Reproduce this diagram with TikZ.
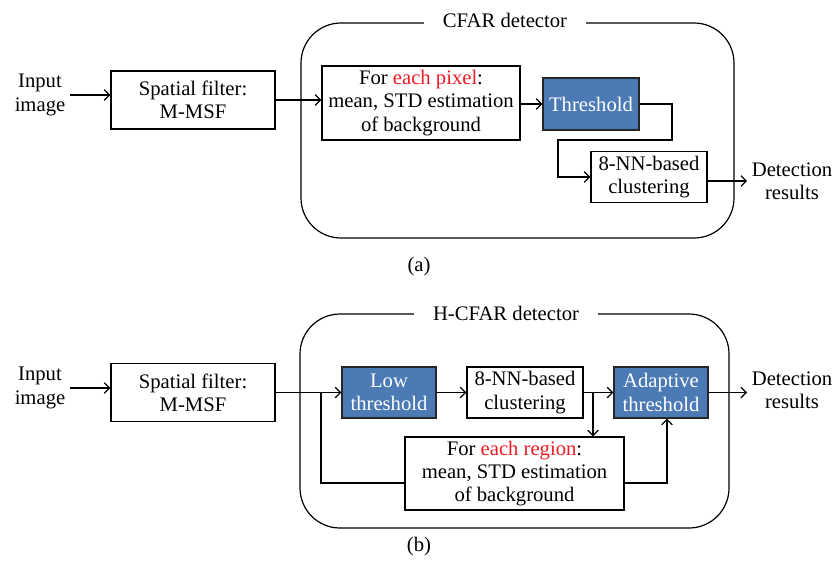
\documentclass[tikz,border=0pt]{standalone}
\usepackage{fontspec}
\setmainfont{Liberation Serif}
\usetikzlibrary{calc}
\usetikzlibrary{arrows.meta}
\definecolor{boxblue}{RGB}{76,122,181}
\definecolor{eachred}{RGB}{236,28,36}
\newcommand{\each}[1]{\textcolor{eachred}{#1}}
\tikzset{
    block/.style={draw, rectangle, align=center, inner sep=1pt, line width=0.9pt},
    blueblock/.style={block, fill=boxblue, text=white, draw=black!85},
    frame/.style={draw, rounded corners=30pt, line width=0.9pt},
    title/.style={fill=white, inner xsep=14pt, inner ysep=1pt},
    plain/.style={align=center},
    wire/.style={line width=0.9pt},
    arr/.style={wire, -{Straight Barb[length=4pt,width=8pt]}}
}
\begin{document}
\begin{tikzpicture}[x=0.75pt, y=-0.75pt, font=\fontsize{15.5}{17.5}\selectfont]
    \useasboundingbox (0,0) rectangle (838,572);

    % (a) CFAR detector
    \draw[frame] (301,23) rectangle (734,238);
    \node[title] (titleA) at (505,20) {CFAR detector};
    \node[plain] (inputA) at (40,95) {Input\\image};
    \node[block, minimum width=123pt, minimum height=43.5pt] (spatialA) at (193,100) {Spatial filter:\\M-MSF};
    \node[block, minimum width=148.5pt, minimum height=55.5pt] (pixelA) at (421,103) {For \each{each pixel}:\\mean, STD estimation\\of background};
    \node[blueblock, minimum width=72pt, minimum height=39pt] (threshA) at (591,104) {Threshold};
    \node[block, minimum width=87pt, minimum height=38.25pt] (nnA) at (649,177) {8-NN-based\\clustering};
    \node[plain] (outA) at (792,181) {Detection\\results};
    \node (capA) at (419,267) {(a)};

    \draw[arr] (inputA.east) -- (inputA.east -| spatialA.west);
    \draw[arr] (spatialA.east) -- (spatialA.east -| pixelA.west);
    \draw[arr] (pixelA.east |- threshA.west) -- (threshA.west);
    \draw[arr] (threshA.east) -| (672,140) -| (558,177) -- (nnA.west);
    \draw[arr] (nnA.east |- outA.west) -- (outA.west);

    % (b) H-CFAR detector
    \draw[frame] (300,314) rectangle (729,528);
    \node[title] (titleB) at (506,313) {H-CFAR detector};
    \node[plain] (inputB) at (40,388) {Input\\image};
    \node[block, minimum width=123pt, minimum height=44pt] (spatialB) at (193,392.5) {Spatial filter:\\M-MSF};
    \node[blueblock, minimum width=70.5pt, minimum height=38.25pt] (lowB) at (389,392.5) {Low\\threshold};
    \node[block, minimum width=87pt, minimum height=38.25pt] (nnB) at (525,392.5) {8-NN-based\\clustering};
    \node[blueblock, minimum width=70.5pt, minimum height=38.25pt] (adaptB) at (661,392.5) {Adaptive\\threshold};
    \node[block, minimum width=164.25pt, minimum height=54.75pt] (regionB) at (514.5,473.5) {For \each{each region}:\\mean, STD estimation\\of background};
    \node[plain] (outB) at (792,390) {Detection\\results};
    \node (capB) at (419,547) {(b)};
    \coordinate (splitB) at (321,392.5);
    \coordinate (splitC) at (593,392.5);

    \draw[arr] (inputB.east) -- (inputB.east -| spatialB.west);
    \draw[arr] (spatialB.east) -- (lowB.west);
    \draw[wire] (splitB) |- ($(regionB.west)+(0,9.5)$);
    \draw[arr] (lowB) -- (nnB);
    \draw[arr] (nnB) -- (adaptB);
    \draw[arr] (splitC) -- (splitC |- regionB.north);
    \draw[arr] ($(regionB.east)+(0,9.5)$) -| ($(adaptB.south)+(6,0)$);
    \draw[arr] (adaptB.east) -- (adaptB.east -| outB.west);
\end{tikzpicture}
\end{document}
